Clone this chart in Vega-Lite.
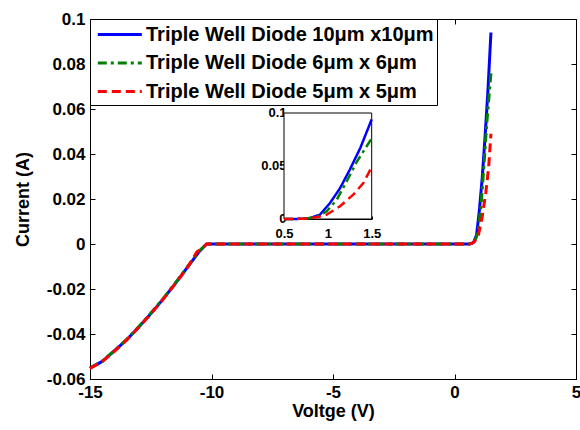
{
  "$schema": "https://vega.github.io/schema/vega-lite/v6.json",
  "width": 486,
  "height": 360,
  "autosize": {"type": "none"},
  "padding": {"left": 90, "top": 19, "right": 4, "bottom": 51},
  "background": "white",
  "config": {
    "view": {"stroke": "black", "strokeWidth": 1},
    "font": "Liberation Sans",
    "axis": {
      "grid": false,
      "labelFlush": false,
      "labelOverlap": false,
      "domainColor": "black",
      "tickColor": "black",
      "labelColor": "black",
      "labelFont": "Liberation Sans",
      "labelFontWeight": "bold",
      "labelFontSize": 17,
      "titleFont": "Liberation Sans",
      "titleFontWeight": "bold",
      "titleFontSize": 18,
      "titleColor": "black"
    },
    "legend": {
      "orient": "top-left",
      "offset": 0,
      "padding": 3,
      "strokeColor": "black",
      "fillColor": "white",
      "symbolType": "M-0.7,0H3.3",
      "symbolSize": 484,
      "symbolStrokeWidth": 3,
      "labelFont": "Liberation Sans",
      "labelFontSize": 20,
      "labelFontWeight": "bold",
      "labelColor": "black",
      "rowPadding": 5.5,
      "labelOffset": 28,
      "labelLimit": 500,
      "cornerRadius": 0
    }
  },
  "datasets": {
    "d": [
      {"s": "Triple Well Diode 10μm x10μm", "v": -15, "i": -0.0552},
      {"s": "Triple Well Diode 10μm x10μm", "v": -14.5, "i": -0.0522},
      {"s": "Triple Well Diode 10μm x10μm", "v": -14, "i": -0.0475},
      {"s": "Triple Well Diode 10μm x10μm", "v": -13.5, "i": -0.0427},
      {"s": "Triple Well Diode 10μm x10μm", "v": -13, "i": -0.037},
      {"s": "Triple Well Diode 10μm x10μm", "v": -12.5, "i": -0.031},
      {"s": "Triple Well Diode 10μm x10μm", "v": -12, "i": -0.0246},
      {"s": "Triple Well Diode 10μm x10μm", "v": -11.5, "i": -0.0177},
      {"s": "Triple Well Diode 10μm x10μm", "v": -11, "i": -0.0105},
      {"s": "Triple Well Diode 10μm x10μm", "v": -10.5, "i": -0.0033},
      {"s": "Triple Well Diode 10μm x10μm", "v": -10.2, "i": 0},
      {"s": "Triple Well Diode 10μm x10μm", "v": 0.5, "i": 0},
      {"s": "Triple Well Diode 10μm x10μm", "v": 0.6, "i": 0},
      {"s": "Triple Well Diode 10μm x10μm", "v": 0.7, "i": 0.0002},
      {"s": "Triple Well Diode 10μm x10μm", "v": 0.8, "i": 0.001},
      {"s": "Triple Well Diode 10μm x10μm", "v": 0.91, "i": 0.0041},
      {"s": "Triple Well Diode 10μm x10μm", "v": 1.025, "i": 0.0151},
      {"s": "Triple Well Diode 10μm x10μm", "v": 1.14, "i": 0.0292},
      {"s": "Triple Well Diode 10μm x10μm", "v": 1.25, "i": 0.0465},
      {"s": "Triple Well Diode 10μm x10μm", "v": 1.37, "i": 0.067},
      {"s": "Triple Well Diode 10μm x10μm", "v": 1.5, "i": 0.094},
      {"s": "Triple Well Diode 6μm x 6μm", "v": -15, "i": -0.0551},
      {"s": "Triple Well Diode 6μm x 6μm", "v": -14.5, "i": -0.0521},
      {"s": "Triple Well Diode 6μm x 6μm", "v": -14, "i": -0.0474},
      {"s": "Triple Well Diode 6μm x 6μm", "v": -13.5, "i": -0.0425},
      {"s": "Triple Well Diode 6μm x 6μm", "v": -13, "i": -0.0368},
      {"s": "Triple Well Diode 6μm x 6μm", "v": -12.5, "i": -0.0308},
      {"s": "Triple Well Diode 6μm x 6μm", "v": -12, "i": -0.0244},
      {"s": "Triple Well Diode 6μm x 6μm", "v": -11.5, "i": -0.0175},
      {"s": "Triple Well Diode 6μm x 6μm", "v": -11, "i": -0.0103},
      {"s": "Triple Well Diode 6μm x 6μm", "v": -10.5, "i": -0.0031},
      {"s": "Triple Well Diode 6μm x 6μm", "v": -10.2, "i": 0},
      {"s": "Triple Well Diode 6μm x 6μm", "v": 0.5, "i": 0},
      {"s": "Triple Well Diode 6μm x 6μm", "v": 0.6, "i": 0},
      {"s": "Triple Well Diode 6μm x 6μm", "v": 0.7, "i": 0.0002},
      {"s": "Triple Well Diode 6μm x 6μm", "v": 0.8, "i": 0.001},
      {"s": "Triple Well Diode 6μm x 6μm", "v": 0.9, "i": 0.003},
      {"s": "Triple Well Diode 6μm x 6μm", "v": 0.987, "i": 0.0072},
      {"s": "Triple Well Diode 6μm x 6μm", "v": 1.1, "i": 0.018},
      {"s": "Triple Well Diode 6μm x 6μm", "v": 1.215, "i": 0.0355},
      {"s": "Triple Well Diode 6μm x 6μm", "v": 1.33, "i": 0.054},
      {"s": "Triple Well Diode 6μm x 6μm", "v": 1.5, "i": 0.076},
      {"s": "Triple Well Diode 5μm x 5μm", "v": -15, "i": -0.0553},
      {"s": "Triple Well Diode 5μm x 5μm", "v": -14.5, "i": -0.0523},
      {"s": "Triple Well Diode 5μm x 5μm", "v": -14, "i": -0.0477},
      {"s": "Triple Well Diode 5μm x 5μm", "v": -13.5, "i": -0.0428},
      {"s": "Triple Well Diode 5μm x 5μm", "v": -13, "i": -0.0371},
      {"s": "Triple Well Diode 5μm x 5μm", "v": -12.5, "i": -0.0311},
      {"s": "Triple Well Diode 5μm x 5μm", "v": -12, "i": -0.0247},
      {"s": "Triple Well Diode 5μm x 5μm", "v": -11.5, "i": -0.0178},
      {"s": "Triple Well Diode 5μm x 5μm", "v": -11, "i": -0.0106},
      {"s": "Triple Well Diode 5μm x 5μm", "v": -10.6, "i": -0.0035},
      {"s": "Triple Well Diode 5μm x 5μm", "v": -10.4, "i": -0.0022},
      {"s": "Triple Well Diode 5μm x 5μm", "v": -10.2, "i": 0},
      {"s": "Triple Well Diode 5μm x 5μm", "v": 0.5, "i": 0},
      {"s": "Triple Well Diode 5μm x 5μm", "v": 0.6, "i": 0},
      {"s": "Triple Well Diode 5μm x 5μm", "v": 0.7, "i": 0.0002},
      {"s": "Triple Well Diode 5μm x 5μm", "v": 0.8, "i": 0.0008},
      {"s": "Triple Well Diode 5μm x 5μm", "v": 0.9, "i": 0.0022},
      {"s": "Triple Well Diode 5μm x 5μm", "v": 0.987, "i": 0.0041},
      {"s": "Triple Well Diode 5μm x 5μm", "v": 1.139, "i": 0.012},
      {"s": "Triple Well Diode 5μm x 5μm", "v": 1.29, "i": 0.023},
      {"s": "Triple Well Diode 5μm x 5μm", "v": 1.405, "i": 0.034},
      {"s": "Triple Well Diode 5μm x 5μm", "v": 1.5, "i": 0.049}
    ],
    "box": [{"x0": 0.5, "x1": 1.5, "y0": 0, "y1": 0.1}]
  },
  "layer": [
    {
      "layer": [
        {
          "data": {"name": "d"},
          "mark": {"type": "line", "strokeWidth": 3},
          "encoding": {
            "x": {
              "field": "v", "type": "quantitative",
              "scale": {"domain": [-15, 5], "nice": false, "zero": false},
              "axis": {"orient": "bottom", "values": [-15, -10, -5, 0, 5], "tickSize": -5, "labelPadding": 10, "labelExpr": "'' + datum.value", "title": "Voltge (V)", "titlePadding": 2}
            },
            "y": {
              "field": "i", "type": "quantitative",
              "scale": {"domain": [-0.06, 0.1], "nice": false, "zero": false},
              "axis": {"orient": "left", "values": [-0.06, -0.04, -0.02, 0, 0.02, 0.04, 0.06, 0.08, 0.1], "tickSize": -5, "labelPadding": 10, "labelExpr": "'' + datum.value", "title": "Current (A)", "titlePadding": 14}
            },
            "color": {
              "field": "s", "type": "nominal",
              "scale": {"domain": ["Triple Well Diode 10μm x10μm", "Triple Well Diode 6μm x 6μm", "Triple Well Diode 5μm x 5μm"], "range": ["#0000ff", "#008000", "#ff0000"]},
              "legend": {"title": null}
            },
            "strokeDash": {
              "field": "s", "type": "nominal",
              "scale": {"domain": ["Triple Well Diode 10μm x10μm", "Triple Well Diode 6μm x 6μm", "Triple Well Diode 5μm x 5μm"], "range": [[1, 0], [9, 4, 3, 4], [9, 5]]},
              "legend": {"title": null}
            }
          }
        },
        {
          "data": {"name": "d"},
          "mark": {"type": "line", "strokeOpacity": 0},
          "encoding": {
            "x": {"field": "v", "type": "quantitative", "axis": {"orient": "top", "values": [-15, -10, -5, 0, 5], "tickSize": -5, "labels": false, "title": null, "domain": false}},
            "y": {"field": "i", "type": "quantitative", "axis": {"orient": "right", "values": [-0.06, -0.04, -0.02, 0, 0.02, 0.04, 0.06, 0.08, 0.1], "tickSize": -5, "labels": false, "title": null, "domain": false}},
            "detail": {"field": "s"}
          }
        }
      ],
      "resolve": {"axis": {"x": "independent", "y": "independent"}}
    },
    {
      "layer": [
        {
          "data": {"name": "box"},
          "mark": {"type": "rect", "fill": "white", "stroke": "black", "strokeWidth": 1},
          "encoding": {
            "x": {"field": "x0", "type": "quantitative", "scale": {"domain": [0.5, 1.5], "range": [194, 281.7], "nice": false, "zero": false},
              "axis": {"orient": "bottom", "offset": -160, "values": [0.5, 1, 1.5], "tickSize": -3, "labelFontSize": 13, "labelPadding": 11, "labelExpr": "'' + datum.value", "title": null}},
            "x2": {"field": "x1"},
            "y": {"field": "y0", "type": "quantitative", "scale": {"domain": [0, 0.1], "range": [200, 94], "nice": false, "zero": false},
              "axis": {"orient": "left", "offset": -194, "values": [0, 0.05, 0.1], "tickSize": -3, "labelFontSize": 13, "labelPadding": 1, "labelOffset": -1, "labelExpr": "'' + datum.value", "title": null}},
            "y2": {"field": "y1"}
          }
        },
        {
          "data": {"name": "d"},
          "transform": [{"filter": "datum.v >= 0.5"}],
          "mark": {"type": "line", "strokeWidth": 2.5},
          "encoding": {
            "x": {"field": "v", "type": "quantitative"},
            "y": {"field": "i", "type": "quantitative"},
            "color": {"field": "s", "type": "nominal"},
            "strokeDash": {"field": "s", "type": "nominal"}
          }
        }
      ]
    }
  ],
  "resolve": {"scale": {"x": "independent", "y": "independent"}}
}
